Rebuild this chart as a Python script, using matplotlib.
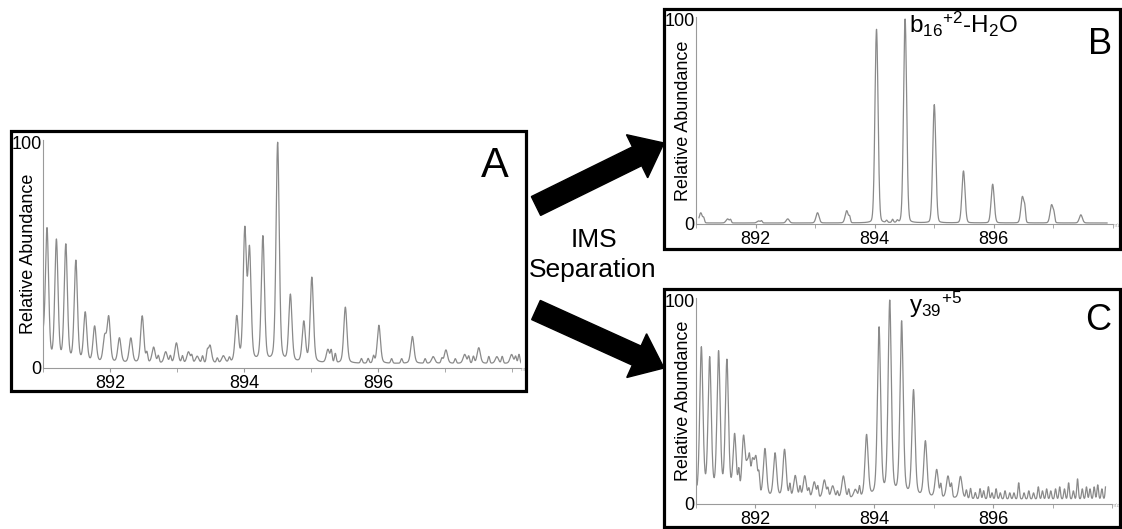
import numpy as np
import matplotlib
matplotlib.use('Agg')
import matplotlib.pyplot as plt
from matplotlib.patches import Rectangle, FancyArrow

plt.rcParams['font.family'] = ['Liberation Sans', 'DejaVu Sans']
plt.rcParams['mathtext.default'] = 'regular'

W, H = 1122, 529

# --- datos (m/z, abundancia relativa) ---
# panel A: espectro sin separar
picos_a_mz = [891.0, 891.06, 891.2, 891.34, 891.49, 891.63, 891.77, 891.92, 891.98, 892.14,
              892.31, 892.48, 892.65, 892.83, 892.99, 893.17, 893.3, 893.49, 893.69, 893.89,
              894.01, 894.08, 894.28, 894.5, 894.69, 894.89, 895.01, 895.25, 895.51, 896.01,
              896.51, 896.82, 897.01, 897.29, 897.5, 897.77, 897.99]
picos_a_alt = [9, 59, 54, 52, 45, 22, 16, 11, 20, 11,
               11, 21, 7, 5, 9, 5, 3, 8, 3, 20,
               58, 49, 56, 98, 30, 18, 38, 6, 25, 17,
               12, 3, 6, 4, 7, 3, 4]
ruido_a_mz = [892.55, 892.72, 892.9, 893.08, 893.22, 893.38, 893.45, 893.6, 893.78, 895.3,
              895.36, 895.75, 895.85, 895.93, 896.2, 896.35, 896.7, 896.95, 897.15, 897.35,
              897.42, 897.65, 897.85, 898.05, 898.1]
ruido_a_alt = [4, 3, 3, 3, 3, 3, 4, 2, 2, 5,
               4, 2, 2, 3, 2, 2, 2, 2, 2, 3,
               3, 3, 3, 3, 4]

# panel B: b16 +2 - H2O
picos_b_mz = [891.08, 891.53, 892.05, 892.54, 893.04, 893.53, 894.03, 894.51, 895.0, 895.49,
              895.98, 896.48, 896.97, 897.46]
picos_b_alt = [5, 2, 1, 2, 5, 6, 95, 100, 58, 25.5,
               19, 13, 9, 4]
ruido_b_mz = [891.13, 891.58, 892.1, 893.58, 894.2, 894.3, 894.38, 896.52, 897.01]
ruido_b_alt = [2, 1.5, 1, 2.5, 1, 1.5, 1, 5, 3]

# panel C: y39 +5
picos_c_mz = [891.09, 891.23, 891.38, 891.52, 891.65, 891.8, 891.87, 891.95, 892.01, 892.16,
              892.33, 892.49, 892.67, 892.83, 892.99, 893.16, 893.3, 893.48, 893.68, 893.87,
              894.08, 894.26, 894.46, 894.66, 894.86, 895.05, 895.24, 895.45]
picos_c_alt = [74, 68, 71, 67, 30, 29, 15, 16, 18, 24,
               22, 24, 11, 11, 8, 9, 6, 11, 4, 31,
               84, 97, 87, 53, 28, 14, 11, 11]
ruido_c_mz = [891.72, 891.9, 892.06, 892.58, 892.75, 892.9, 893.05, 893.22, 893.38, 893.57,
              893.75, 895.12, 895.3, 895.55, 895.62, 895.7, 895.78, 895.84, 895.92, 895.98,
              896.05, 896.12, 896.2, 896.28, 896.35, 896.43, 896.52, 896.6, 896.68, 896.76,
              896.83, 896.9, 896.97, 897.05, 897.12, 897.2, 897.27, 897.35, 897.42, 897.5,
              897.57, 897.63, 897.7, 897.76, 897.83, 897.9]
ruido_c_alt = [10, 9, 8, 6, 5, 4, 5, 4, 3, 4,
               5, 6, 6, 4, 5, 3, 5, 4, 6, 3,
               5, 3, 4, 3, 3, 8, 3, 4, 3, 6,
               4, 5, 4, 5, 6, 5, 8, 4, 10, 5,
               6, 5, 6, 7, 5, 8]

etiquetas_x = [892, 894, 896]
etiquetas_y = [0, 100]


def pseudo_voigt(x, centros, alturas, sigma, eta):
    # suma de picos con forma pseudo-voigt
    y = np.zeros_like(x)
    gamma = sigma * 1.1774
    for c, h in zip(centros, alturas):
        g = np.exp(-0.5 * ((x - c) / sigma) ** 2)
        l = 1.0 / (1.0 + ((x - c) / gamma) ** 2)
        y += h * ((1 - eta) * g + eta * l)
    return y


def espectro(x, mz, alt, rmz, ralt, sigma, eta, base):
    y = base + pseudo_voigt(x, mz, alt, sigma, eta) + pseudo_voigt(x, rmz, ralt, 0.013, 0.0)
    return y / y.max() * 100


def caja_px(l, t, r, b):
    return [l / W, 1 - b / H, (r - l) / W, (b - t) / H]


fig = plt.figure(figsize=(W / 100, H / 100), dpi=100)

paneles = [
    # (rect axes, xlim, datos, forma, posicion etiqueta y)
    ((43, 140, 521, 368), (891.0, 898.13), (picos_a_mz, picos_a_alt, ruido_a_mz, ruido_a_alt), (0.024, 0.3, 2.0), -0.012),
    ((696, 17, 1113, 224), (891.05, 897.9), (picos_b_mz, picos_b_alt, ruido_b_mz, ruido_b_alt), (0.026, 0.1, 0.5), -0.009),
    ((696, 298, 1112, 504), (891.02, 897.89), (picos_c_mz, picos_c_alt, ruido_c_mz, ruido_c_alt), (0.027, 0.35, 2.5), -0.009),
]

gris = '#8a8a8a'
for rect, lim, datos, forma, lab_x in paneles:
    ax = fig.add_axes(caja_px(*rect))
    x = np.linspace(lim[0], lim[1], 4000)
    y = espectro(x, datos[0], datos[1], datos[2], datos[3], *forma)
    ax.plot(x, y, color=gris, lw=0.9)
    ax.set_xlim(lim)
    ax.set_ylim(0, 101)
    ax.set_facecolor('none')
    for s in ['top', 'right']:
        ax.spines[s].set_visible(False)
    for s in ['left', 'bottom']:
        ax.spines[s].set_color('#9a9a9a')
        ax.spines[s].set_linewidth(0.8)
    ax.set_xticks(etiquetas_x)
    ax.set_xticks(np.arange(891, 899), minor=True)
    ax.set_yticks(etiquetas_y)
    ax.tick_params(axis='x', which='both', length=3, color='#9a9a9a', pad=2, labelsize=13)
    ax.tick_params(axis='y', length=0, pad=1, labelsize=13)
    ax.set_ylabel('Relative Abundance', fontsize=13)
    ax.yaxis.set_label_coords(lab_x, 0.5)
    ax.text(1.0, -0.005, 'm/z', transform=ax.transAxes, fontsize=3.5, color='#aaaaaa',
            ha='left', va='center')

# capa superior en pixeles para marcos, flechas y textos
top = fig.add_axes([0, 0, 1, 1])
top.set_xlim(0, W)
top.set_ylim(H, 0)
top.set_axis_off()
top.patch.set_visible(False)

for l, t, r, b in [(11, 131, 526, 391), (664, 9, 1120, 249), (664, 289, 1120, 527)]:
    top.add_patch(Rectangle((l, t), r - l, b - t, fill=False, ec='black', lw=2.3))

top.add_patch(FancyArrow(536, 206, 128, -63, width=21, head_width=48, head_length=30,
                         length_includes_head=True, color='black'))
top.add_patch(FancyArrow(536, 310, 128, 58, width=21, head_width=48, head_length=30,
                         length_includes_head=True, color='black'))

top.text(495, 166, 'A', fontsize=30, ha='center', va='center')
top.text(1100, 45, 'B', fontsize=26, ha='center', va='center')
top.text(1098, 321, 'C', fontsize=26, ha='center', va='center')

top.text(594, 247, 'IMS', fontsize=19, ha='center', va='baseline')
top.text(593, 277, 'Separation', fontsize=19, ha='center', va='baseline')

top.text(909, 33, r'b$_{16}$$^{+2}$-H$_{2}$O', fontsize=17.5, ha='left', va='baseline')
top.text(909, 313, r'y$_{39}$$^{+5}$', fontsize=17.5, ha='left', va='baseline')

fig.savefig('out.png', dpi=100)
